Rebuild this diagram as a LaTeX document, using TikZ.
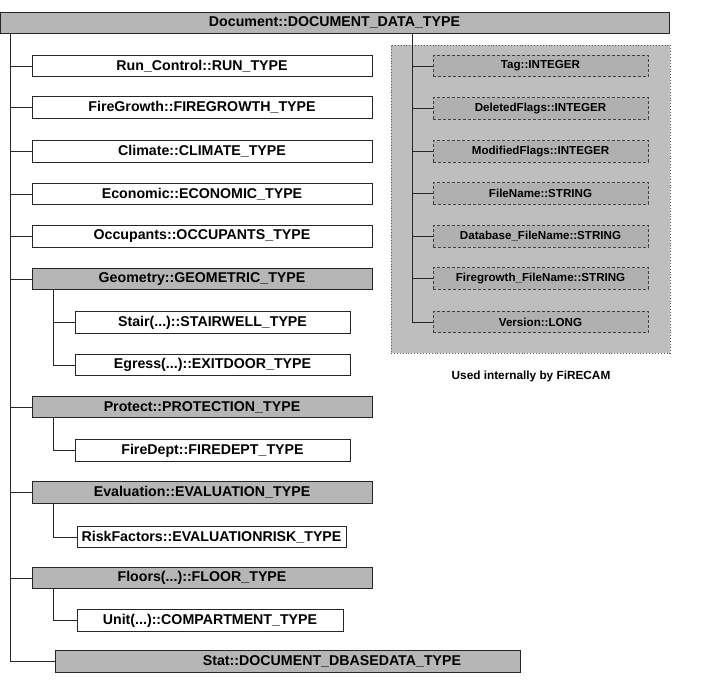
\documentclass[tikz,border=0pt]{standalone}
\usepackage{fontspec}
\setmainfont{Liberation Sans}
\definecolor{shade}{HTML}{B6B6B6}
\definecolor{pshade}{HTML}{BEBEBE}
\definecolor{ishade}{HTML}{B0B0B0}
\begin{document}
\begin{tikzpicture}[x=1pt,y=-1pt,
  box/.style={draw=black!85, line width=0.8pt, fill=white, inner sep=0pt,
    minimum height=21.5pt, font=\bfseries\fontsize{14.2}{16}\selectfont},
  sbox/.style={box, fill=shade},
  pbox/.style={draw=black!75, densely dashed, line width=0.7pt, fill=ishade,
    inner sep=0pt, minimum width=215pt, minimum height=21.5pt,
    font=\bfseries\fontsize{11.6}{13}\selectfont},
  link/.style={draw=black!85, line width=0.8pt},
  captext/.style={font=\bfseries\fontsize{11.8}{13}\selectfont, inner sep=0pt}]
\useasboundingbox (0,0) rectangle (701,690);
% right panel background
\node[draw=black!65, dotted, line width=0.9pt, fill=pshade, inner sep=0pt,
  minimum width=279pt, minimum height=308pt] (panel) at (530.5,199) {};
% top box
\node[sbox, minimum width=669pt, minimum height=21pt] (doc) at (334.5,22.5) {Document::DOCUMENT\_DATA\_TYPE};
% left column
\node[box, minimum width=340pt] (run) at (202,66) {Run\_Control::RUN\_TYPE};
\node[box, minimum width=340pt] (fire) at (202,107.5) {FireGrowth::FIREGROWTH\_TYPE};
\node[box, minimum width=340pt] (clim) at (202,151.5) {Climate::CLIMATE\_TYPE};
\node[box, minimum width=340pt] (econ) at (202,194) {Economic::ECONOMIC\_TYPE};
\node[box, minimum width=340pt] (occ) at (202,236.5) {Occupants::OCCUPANTS\_TYPE};
\node[sbox, minimum width=340pt] (geom) at (202,279) {Geometry::GEOMETRIC\_TYPE};
\node[box, minimum width=275pt] (stair) at (212.5,322.5) {Stair(...)::STAIRWELL\_TYPE};
\node[box, minimum width=275pt] (egress) at (212.5,365) {Egress(...)::EXITDOOR\_TYPE};
\node[sbox, minimum width=340pt, minimum height=20.5pt] (prot) at (202,407) {Protect::PROTECTION\_TYPE};
\node[box, minimum width=275pt] (fdept) at (212.5,450.5) {FireDept::FIREDEPT\_TYPE};
\node[sbox, minimum width=340pt] (eval) at (202,492.5) {Evaluation::EVALUATION\_TYPE};
\node[box, minimum width=269pt, minimum height=20.5pt] (risk) at (211.5,537) {RiskFactors::EVALUATIONRISK\_TYPE};
\node[sbox, minimum width=340pt] (floors) at (202,578) {Floors(...)::FLOOR\_TYPE};
\node[box, minimum width=266pt] (unit) at (210,620.5) {Unit(...)::COMPARTMENT\_TYPE};
\node[sbox, minimum width=465pt] (stat) at (287.5,661.5) {\hspace*{89pt}Stat::DOCUMENT\_DBASEDATA\_TYPE};
% right column
\node[pbox] (tag) at (540.5,66) {Tag::INTEGER};
\node[pbox] (del) at (540.5,108.5) {DeletedFlags::INTEGER};
\node[pbox] (mod) at (540.5,151.5) {ModifiedFlags::INTEGER};
\node[pbox] (fname) at (540.5,193.5) {FileName::STRING};
\node[pbox] (dbf) at (540.5,236.5) {Database\_FileName::STRING};
\node[pbox] (fgf) at (540.5,278.5) {Firegrowth\_FileName::STRING};
\node[pbox] (ver) at (540.5,322) {Version::LONG};
\node[captext] (cap) at (531,376) {Used internally by FiRECAM};
% connectors
\coordinate (t) at (10,0);
\coordinate (s) at (53,0);
\coordinate (r) at (412,0);
\draw[link] (doc.south -| t) |- (stat.west);
\foreach \n in {run,fire,clim,econ,occ,geom,prot,eval,floors}
  \draw[link] (t |- \n.west) -- (\n.west);
\draw[link] (geom.south -| s) |- (egress.west);
\draw[link] (s |- stair.west) -- (stair.west);
\draw[link] (prot.south -| s) |- (fdept.west);
\draw[link] (eval.south -| s) |- (risk.west);
\draw[link] (floors.south -| s) |- (unit.west);
\draw[link] (doc.south -| r) |- (ver.west);
\foreach \n in {tag,del,mod,fname,dbf,fgf}
  \draw[link] (r |- \n.west) -- (\n.west);
\end{tikzpicture}
\end{document}
